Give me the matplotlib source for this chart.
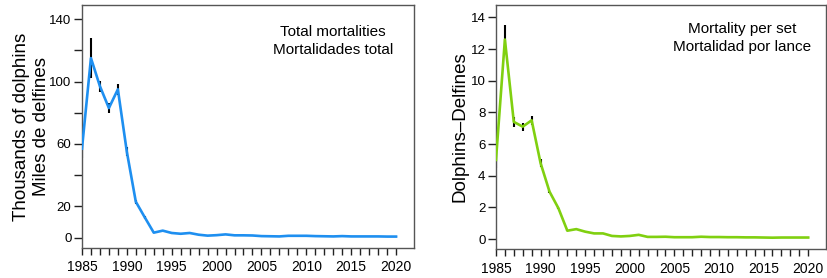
import matplotlib
matplotlib.use("Agg")
import matplotlib.pyplot as plt
import numpy as np

plt.rcParams['font.family'] = ['Liberation Sans', 'DejaVu Sans']

years = list(range(1985, 2021))
total = [57, 115, 97, 83, 95, 55, 23, 13, 3.2, 4.5, 3.0, 2.5, 3.0, 1.9, 1.3, 1.6, 2.1,
         1.5, 1.5, 1.4, 1.0, 0.9, 0.8, 1.2, 1.2, 1.2, 1.0, 0.9, 0.8, 1.0, 0.8, 0.8,
         0.8, 0.8, 0.7, 0.7]
total_err = [6, 13, 3.5, 3, 3.5, 3, 1.2, 0.8, 0.4, 0.4, 0.3, 0.3, 0.3, 0.2, 0.2, 0.2, 0.2,
             0.2, 0.2, 0.2, 0.1, 0.1, 0.1, 0.1, 0.1, 0.1, 0.1, 0.1, 0.1, 0.1, 0.1, 0.1,
             0.1, 0.1, 0.1, 0.1]
perset = [5.0, 12.6, 7.4, 7.1, 7.5, 4.8, 3.0, 1.95, 0.53, 0.63, 0.47, 0.36, 0.36, 0.2, 0.17,
          0.2, 0.27, 0.14, 0.14, 0.15, 0.12, 0.12, 0.12, 0.15, 0.13, 0.13, 0.12, 0.12,
          0.11, 0.11, 0.10, 0.09, 0.10, 0.10, 0.10, 0.10]
perset_err = [0.5, 0.9, 0.3, 0.25, 0.3, 0.25, 0.1, 0.06, 0.02, 0.02, 0.02, 0.02, 0.02, 0.01,
              0.01, 0.01, 0.03, 0.02, 0.01, 0.01, 0.01, 0.01, 0.01, 0.01, 0.01, 0.01, 0.01,
              0.01, 0.01, 0.01, 0.01, 0.01, 0.01, 0.01, 0.01, 0.01]

left_yticks = [0, 20, 40, 60, 80, 100, 120, 140]
left_ylabels = ['0', '20', '', '60', '', '100', '', '140']
right_yticks = [0, 2, 4, 6, 8, 10, 12, 14]
xlabel_years = [1985, 1990, 1995, 2000, 2005, 2010, 2015, 2020]

fig = plt.figure(figsize=(8.28, 2.78), dpi=100)
ax1 = fig.add_axes([0.099, 0.108, 0.401, 0.874])
ax2 = fig.add_axes([0.599, 0.104, 0.3986, 0.878])

spine_col = '#555555'

def style(ax):
    for s in ax.spines.values():
        s.set_color(spine_col)
        s.set_linewidth(1.0)
    ax.set_xlim(1985, 2022)
    ax.set_xticks(years)
    ax.set_xticklabels([str(y) if y in xlabel_years else '' for y in years])
    ax.tick_params(axis='x', length=5, width=1, color='#222222', labelsize=10, pad=4)
    ax.tick_params(axis='y', length=6, width=1, color='#222222', labelsize=9.5, pad=1.5)

ax1.errorbar(years, total, yerr=total_err, fmt='none', ecolor='black', elinewidth=1.5, zorder=2)
ax1.plot(years, total, color='#1E8FF0', lw=1.9, zorder=3)
ax1.set_ylim(-6.6, 149)
ax1.set_yticks(left_yticks)
ax1.set_yticklabels(left_ylabels)
style(ax1)
ax1.set_ylabel('Thousands of dolphins\nMiles de delfines', fontsize=13.5, linespacing=1.2)
ax1.yaxis.set_label_coords(-0.097, 0.5)
ax1.text(0.755, 0.852, 'Total mortalities\nMortalidades total', transform=ax1.transAxes,
         ha='center', va='center', fontsize=11, linespacing=1.35)

ax2.errorbar(years, perset, yerr=perset_err, fmt='none', ecolor='black', elinewidth=1.5, zorder=2)
ax2.plot(years, perset, color='#80D010', lw=1.9, zorder=3)
ax2.set_ylim(-0.63, 14.78)
ax2.set_yticks(right_yticks)
style(ax2)
ax2.set_ylabel('Dolphins\u2013Delfines', fontsize=13.5)
ax2.yaxis.set_label_coords(-0.082, 0.5)
ax2.text(0.745, 0.865, 'Mortality per set\nMortalidad por lance', transform=ax2.transAxes,
         ha='center', va='center', fontsize=11, linespacing=1.35)

fig.savefig('out.png', dpi=100)
